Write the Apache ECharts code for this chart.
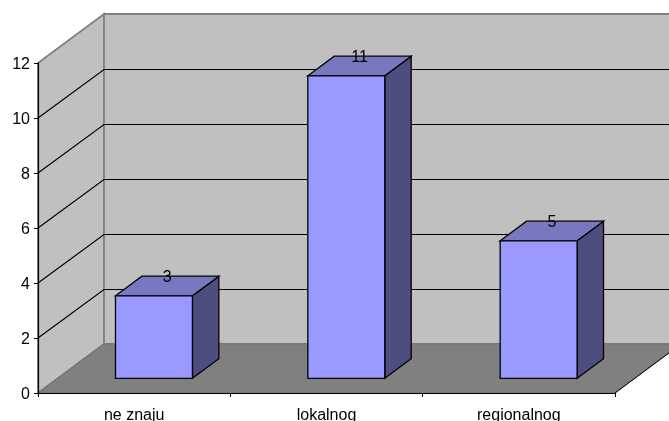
<!DOCTYPE html>
<html>
<head>
<meta charset="utf-8">
<style>html,body{margin:0;padding:0;background:#fff}#chart{width:669px;height:421px}</style>
<script src="https://cdn.jsdelivr.net/npm/echarts@6/dist/echarts.min.js"></script>
</head>
<body>
<div id="chart"></div>
<script>
// Survey answers, one box per category
const categories = ['ne znaju', 'lokalnog', 'regionalnog'];
const values = [3, 11, 5];
const valueTicks = [0, 2, 4, 6, 8, 10, 12];

// Oblique projection: pixel offset from the front plane to the back wall
const depthX = 66;
const depthY = -49;
// Boxes occupy this slice of the depth, and this share of each category band
const boxNear = 0.3;
const boxFar = 0.7;
const boxShare = 0.4;

const labelFont = '"Liberation Sans", Arial, sans-serif';
const project = (p, d) => [p[0] + depthX * d, p[1] + depthY * d];
// Centre a 1px stroke on a pixel row so it stays crisp
const snap = v => Math.floor(v) + 0.5;

const chart = echarts.init(document.getElementById('chart'));

function renderRoom(params, api) {
  const c = params.coordSys;
  const fl = [c.x, c.y + c.height];
  const fr = [c.x + c.width, c.y + c.height];
  const tl = [c.x, c.y];
  const tr = [c.x + c.width, c.y];
  const wallStyle = { fill: '#c0c0c0', stroke: '#808080', lineWidth: 1.8 };
  const children = [
    { type: 'polygon', shape: { points: [fl, project(fl, 1), project(tl, 1), tl] }, style: wallStyle },
    { type: 'polygon', shape: { points: [project(tl, 1), project(tr, 1), project(fr, 1), project(fl, 1)] }, style: wallStyle },
    { type: 'polygon', shape: { points: [fl, fr, project(fr, 1), project(fl, 1)] }, style: { fill: '#808080', stroke: '#707070', lineWidth: 1 } },
    { type: 'line', shape: { x1: fr[0], y1: fr[1], x2: project(fr, 1)[0], y2: project(fr, 1)[1] }, style: { stroke: '#000', lineWidth: 1 } }
  ];
  return { type: 'group', children };
}

function renderGridline(params, api) {
  const c = params.coordSys;
  const y = api.coord([0, api.value(0)])[1];
  const front = [c.x, y];
  const back = project(front, 1);
  const backY = snap(back[1]);
  return {
    type: 'polyline',
    shape: { points: [front, [back[0], backY], [c.x + c.width + depthX, backY]] },
    style: { fill: 'none', stroke: '#000', lineWidth: 1.2 }
  };
}

function renderBox(params, api) {
  const idx = api.value(0);
  const val = api.value(1);
  const band = api.size([1, 0])[0];
  const half = band * boxShare / 2;
  const base = api.coord([idx, 0]);
  const head = api.coord([idx, val]);
  const near = (x, y) => project([x, y], boxNear);
  const far = (x, y) => project([x, y], boxFar);
  const xl = base[0] - half;
  const xr = base[0] + half;
  const edge = { stroke: '#000', lineWidth: 1.3, lineJoin: 'miter' };
  const mid = project(head, (boxNear + boxFar) / 2);
  return {
    type: 'group',
    children: [
      { type: 'polygon', shape: { points: [near(xr, base[1]), far(xr, base[1]), far(xr, head[1]), near(xr, head[1])] }, style: { fill: '#4d4d80', ...edge } },
      { type: 'polygon', shape: { points: [near(xl, head[1]), near(xr, head[1]), far(xr, head[1]), far(xl, head[1])] }, style: { fill: '#7878c0', ...edge } },
      { type: 'polygon', shape: { points: [near(xl, base[1]), near(xr, base[1]), near(xr, head[1]), near(xl, head[1])] }, style: { fill: '#9999ff', ...edge } },
      { type: 'text', x: mid[0], y: mid[1] - 8, style: { text: String(val), fill: '#000', font: '16px ' + labelFont, textAlign: 'center', textVerticalAlign: 'middle' } }
    ]
  };
}

chart.setOption({
  animation: false,
  backgroundColor: '#fff',
  grid: { left: 38, right: 54, top: 63, bottom: 28, outerBoundsMode: 'none' },
  xAxis: {
    type: 'category',
    data: categories,
    z: 5,
    axisLine: { lineStyle: { color: '#000', width: 1.2 } },
    axisTick: { show: true, length: 4, lineStyle: { color: '#000' } },
    axisLabel: { color: '#000', fontFamily: labelFont, fontSize: 16, margin: 15, interval: 0 }
  },
  yAxis: {
    type: 'value',
    min: valueTicks[0],
    max: valueTicks[valueTicks.length - 1],
    interval: 2,
    z: 5,
    splitLine: { show: false },
    axisLine: { show: true, lineStyle: { color: '#000', width: 1.2 } },
    axisTick: { show: true, length: 4, lineStyle: { color: '#000' } },
    axisLabel: { color: '#000', fontFamily: labelFont, fontSize: 16, margin: 8, verticalAlign: 'top', padding: [-6, 0, 0, 0] }
  },
  series: [
    { type: 'custom', z: 1, silent: true, renderItem: renderRoom, data: [[0]] },
    {
      type: 'custom', z: 2, silent: true, renderItem: renderGridline,
      encode: { y: 0 },
      data: valueTicks.slice(1, -1).map(v => [v])
    },
    {
      type: 'custom', z: 3, renderItem: renderBox,
      encode: { x: 0, y: 1 },
      data: values.map((v, i) => [i, v])
    }
  ]
});
</script>
</body>
</html>
